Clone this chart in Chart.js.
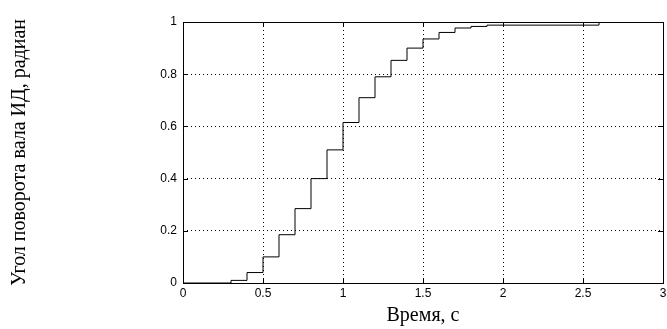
<!DOCTYPE html>
<html>
<head>
<meta charset="utf-8">
<script src="https://cdn.jsdelivr.net/npm/chart.js@4.4.0/dist/chart.umd.min.js"></script>
<style>
  html, body { margin: 0; padding: 0; background: #fff; }
  #wrap { width: 667px; height: 329px; }
</style>
</head>
<body>
<div id="wrap"><canvas id="myChart"></canvas></div>
<script>
// время, с (шаг 0.1)
const times = [0, 0.1, 0.2, 0.3, 0.4, 0.5, 0.6, 0.7, 0.8, 0.9, 1.0,
  1.1, 1.2, 1.3, 1.4, 1.5, 1.6, 1.7, 1.8, 1.9, 2.0,
  2.1, 2.2, 2.3, 2.4, 2.5, 2.6, 2.7, 2.8, 2.9, 3.0];
// угол поворота вала ИД, радиан
const angles = [0, 0, 0, 0.01, 0.04, 0.10, 0.185, 0.285, 0.40, 0.51, 0.615,
  0.71, 0.79, 0.853, 0.90, 0.935, 0.96, 0.977, 0.983, 0.988, 0.988,
  0.988, 0.988, 0.988, 0.988, 0.988, 0.999, 0.999, 0.999, 1.0, 1.0];
const xTicks = [0, 0.5, 1, 1.5, 2, 2.5, 3];
const yTicks = [0, 0.2, 0.4, 0.6, 0.8, 1];

const points = times.map((t, i) => ({ x: t, y: angles[i] }));
const tickFont = { family: "'Liberation Sans Narrow', 'Liberation Sans', Arial", size: 12 };

// рамка и внутренние засечки как в MATLAB
const boxPlugin = {
  id: 'box',
  afterDatasetsDraw(chart) {
    const { ctx, chartArea: a, scales } = chart;
    ctx.save();
    ctx.strokeStyle = '#000';
    ctx.lineWidth = 1;
    ctx.strokeRect(Math.round(a.left) + 0.5, Math.round(a.top) + 0.5,
      Math.round(a.right - a.left), Math.round(a.bottom - a.top));
    ctx.beginPath();
    xTicks.forEach(v => {
      const px = Math.round(scales.x.getPixelForValue(v)) + 0.5;
      ctx.moveTo(px, a.bottom); ctx.lineTo(px, a.bottom - 5);
      ctx.moveTo(px, a.top); ctx.lineTo(px, a.top + 5);
    });
    yTicks.forEach(v => {
      const py = Math.round(scales.y.getPixelForValue(v)) + 0.5;
      ctx.moveTo(a.left, py); ctx.lineTo(a.left + 5, py);
      ctx.moveTo(a.right, py); ctx.lineTo(a.right - 5, py);
    });
    ctx.stroke();
    ctx.restore();
  }
};

new Chart(document.getElementById('myChart'), {
  type: 'line',
  data: {
    datasets: [{
      data: points,
      stepped: true,
      borderColor: '#000',
      borderWidth: 1,
      pointRadius: 0,
      fill: false
    }]
  },
  options: {
    responsive: true,
    maintainAspectRatio: false,
    animation: false,
    layout: { padding: { top: 22, right: 4, left: 0, bottom: 0 } },
    plugins: { legend: { display: false }, tooltip: { enabled: false } },
    scales: {
      x: {
        type: 'linear',
        min: 0, max: 3,
        afterBuildTicks: s => { s.ticks = xTicks.map(v => ({ value: v })); },
        afterFit: s => { s.height = 46; s.paddingRight = 0; s.paddingLeft = 0; },
        ticks: { color: '#000', padding: 3, maxRotation: 0, font: tickFont,
          callback: v => String(v) },
        grid: { color: '#000', lineWidth: 1, drawTicks: false },
        border: { display: false, dash: [1, 3] },
        title: { display: true, text: 'Время, с', color: '#000',
          font: { family: 'Liberation Serif', size: 20 },
          padding: { top: 0, bottom: 1 } }
      },
      y: {
        min: 0, max: 1,
        afterBuildTicks: s => { s.ticks = yTicks.map(v => ({ value: v })); },
        afterFit: s => { s.width = 183; },
        ticks: { color: '#000', padding: 6, font: tickFont,
          callback: v => String(v) },
        grid: { color: '#000', lineWidth: 1, drawTicks: false },
        border: { display: false, dash: [1, 3] },
        title: { display: true, text: 'Угол поворота вала ИД, радиан', color: '#000',
          font: { family: 'Liberation Serif', size: 20 },
          padding: { top: 8, bottom: 0 } }
      }
    }
  },
  plugins: [boxPlugin]
});
</script>
</body>
</html>
